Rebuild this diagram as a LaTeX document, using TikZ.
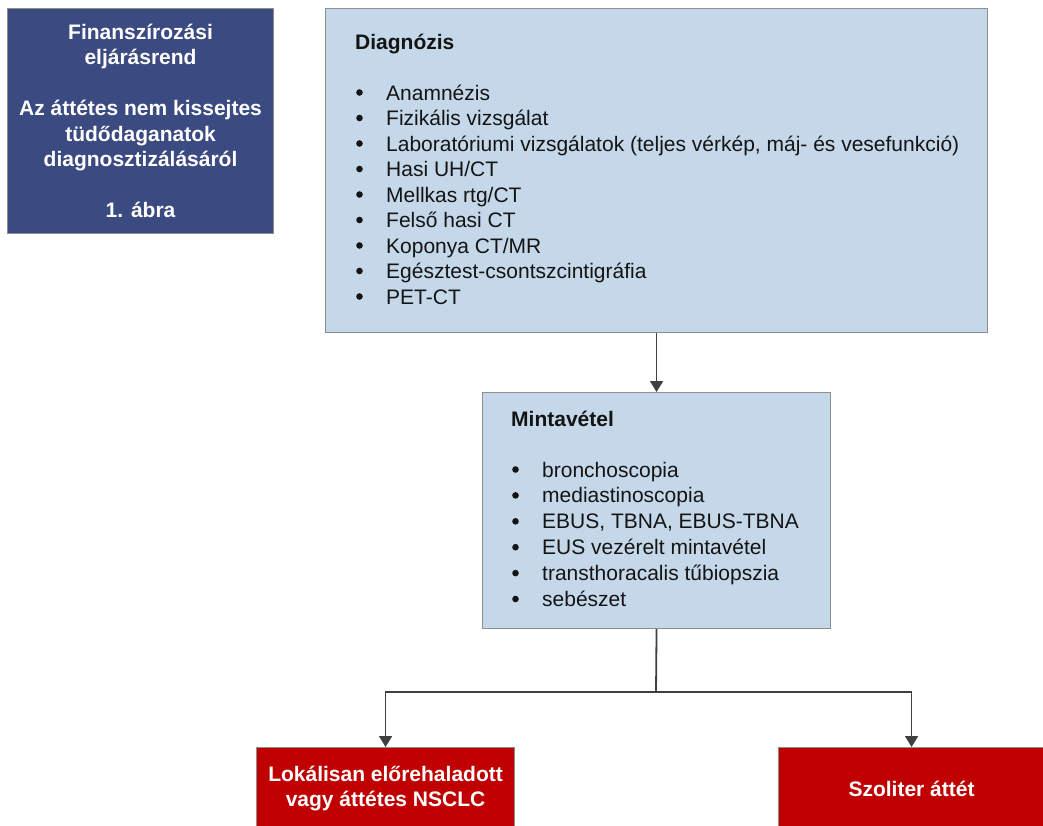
\documentclass[tikz,border=0pt]{standalone}
\usepackage{fontspec}
\setmainfont{Liberation Sans}
\usetikzlibrary{arrows.meta}

\definecolor{navy}{HTML}{3B4A81}
\definecolor{paleblue}{HTML}{C5D8EA}
\definecolor{deepred}{HTML}{C00000}
\definecolor{edgegray}{HTML}{8E8E8E}
\definecolor{linkgray}{HTML}{404040}
\definecolor{bodytext}{HTML}{141414}

\begin{document}
\begin{tikzpicture}[x=1pt,y=-1pt,
  box/.style={draw=edgegray, line width=1.1pt, inner sep=0pt, anchor=north west},
  titlebox/.style={box, fill=navy},
  stagebox/.style={box, fill=paleblue},
  outcome/.style={box, fill=deepred},
  link/.style={draw=linkgray, line width=1.8pt},
  arrowlink/.style={link, -{Triangle[width=13pt,length=11pt]}},
  headtext/.style={text=bodytext, font=\fontsize{21}{25.5}\selectfont\bfseries, inner sep=0pt, anchor=base west},
  itemtext/.style={text=bodytext, font=\fontsize{21}{25.5}\selectfont, inner sep=0pt, anchor=base west},
  bulletdot/.style={fill=bodytext},
  whitetext/.style={text=white, font=\fontsize{21}{25.5}\selectfont\bfseries, align=center, inner sep=0pt}
]
\fill[white] (0,0) rectangle (1043,825);
\useasboundingbox (0,0) rectangle (1043,825);

% boxes
\node[titlebox, minimum width=266pt, minimum height=225pt] (title) at (7,8) {};
\node[stagebox, minimum width=662pt, minimum height=324pt] (diag) at (325,8) {};
\node[stagebox, minimum width=348pt, minimum height=236pt] (mint) at (482,392) {};
\node[outcome, minimum width=258pt, minimum height=82pt] (res1) at (256,747) {};
\node[outcome, minimum width=266pt, minimum height=82pt] (res2) at (778,747) {};

% title
\node[whitetext] (titletext) at (title.center)
  {\frenchspacing Finanszírozási\\eljárásrend\\[25.5pt]Az áttétes nem kissejtes\\tüdődaganatok\\diagnosztizálásáról\\[25.5pt]1. ábra};

% diagnosis
\node[headtext] (diaghead) at (355,49.5) {Diagnózis};
\foreach \t [count=\i from 0] in {Anamnézis, Fizikális vizsgálat,
  {Laboratóriumi vizsgálatok (teljes vérkép, máj- és vesefunkció)},
  Hasi UH/CT, Mellkas rtg/CT, Felső hasi CT, Koponya CT/MR,
  Egésztest-csontszcintigráfia, PET-CT}
{
  \fill[bulletdot] (359.5,100+25.5*\i-7.5) circle (3.3pt);
  \node[itemtext] (diag-\i) at (386,100+25.5*\i) {\t};
}

% sampling
\node[headtext] (minthead) at (511,426) {Mintavétel};
\foreach \t [count=\i from 0] in {bronchoscopia, mediastinoscopia,
  {EBUS, TBNA, EBUS-TBNA}, EUS vezérelt mintavétel,
  transthoracalis tűbiopszia, sebészet}
{
  \fill[bulletdot] (515.5,477+25.9*\i-7.5) circle (3.3pt);
  \node[itemtext] (mint-\i) at (542,477+25.9*\i) {\t};
}

% outcomes
\node[whitetext, font=\fontsize{21}{25}\selectfont\bfseries] (res1text) at (res1.center) {Lokálisan előrehaladott\\vagy áttétes NSCLC};
\node[whitetext] (res2text) at (res2.center) {Szoliter áttét};

% connectors
\coordinate (split) at (656,692);
\draw[arrowlink] (diag.south) -- (mint.north);
\draw[link] (mint.south) -- (split);
\draw[arrowlink] (split) -| (res1.north);
\draw[arrowlink] (split) -| (res2.north);
\end{tikzpicture}
\end{document}
